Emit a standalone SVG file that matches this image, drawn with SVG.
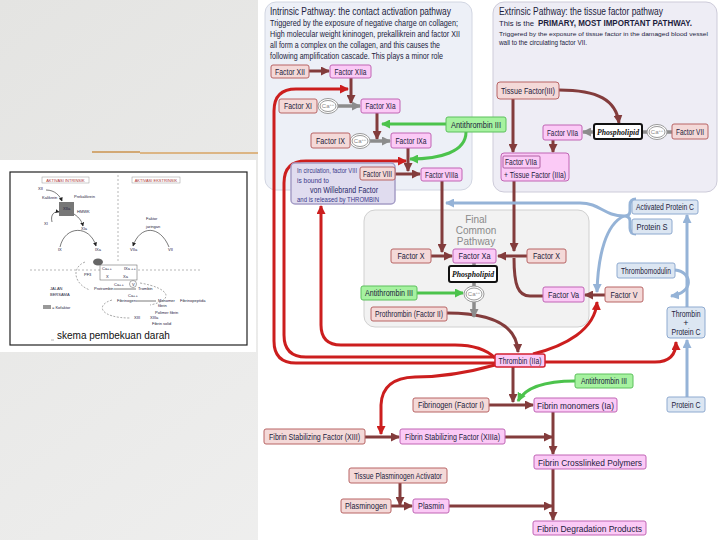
<svg xmlns="http://www.w3.org/2000/svg" width="720" height="540" viewBox="0 0 720 540">
<defs>
<linearGradient id="bg" x1="0" y1="0" x2="1" y2="1">
<stop offset="0" stop-color="#e4e4e2"/><stop offset="1" stop-color="#f3f3f3"/>
</linearGradient>
<marker id="am" markerUnits="userSpaceOnUse" markerWidth="9" markerHeight="9" refX="8" refY="4.5" orient="auto"><path d="M0,0 L9,4.5 L0,9 z" fill="#833c3c"/></marker>
<marker id="ar" markerUnits="userSpaceOnUse" markerWidth="9" markerHeight="9" refX="8" refY="4.5" orient="auto"><path d="M0,0 L9,4.5 L0,9 z" fill="#cc1e1e"/></marker>
<marker id="ag" markerUnits="userSpaceOnUse" markerWidth="9" markerHeight="9" refX="8" refY="4.5" orient="auto"><path d="M0,0 L9,4.5 L0,9 z" fill="#4cc34c"/></marker>
<marker id="ay" markerUnits="userSpaceOnUse" markerWidth="9" markerHeight="9" refX="8" refY="4.5" orient="auto"><path d="M0,0 L9,4.5 L0,9 z" fill="#8c8c8c"/></marker>
<marker id="ab" markerUnits="userSpaceOnUse" markerWidth="9" markerHeight="9" refX="8" refY="4.5" orient="auto"><path d="M0,0 L9,4.5 L0,9 z" fill="#95b3d7"/></marker>
<marker id="ak" markerUnits="userSpaceOnUse" markerWidth="4" markerHeight="4" refX="3.5" refY="2" orient="auto"><path d="M0,0 L4,2 L0,4 z" fill="#222"/></marker>
</defs>
<style>
text{font-family:"Liberation Sans Narrow","Liberation Sans",Arial,sans-serif;fill:#1c1c3c}
.lbl{font-size:9px;text-anchor:middle}
.sal{fill:#f4d9d8;stroke:#b86464;stroke-width:1}
.mag{fill:#fbcaf6;stroke:#c065b4;stroke-width:1}
.grn{fill:#a6f2a0;stroke:#5cc05c;stroke-width:1}
.blu{fill:#dce6f2;stroke:#8eaad0;stroke-width:1}
.phl{fill:#fff;stroke:#111;stroke-width:2}
.phlt{font-family:"Liberation Serif","Times New Roman",serif;font-style:italic;font-weight:bold;font-size:9px;text-anchor:middle}
.ca ellipse{fill:#fff;stroke:#9a9a9a;stroke-width:1}
.cat{font-size:6px;text-anchor:middle}
.m{fill:none;stroke:#833c3c;stroke-width:3;marker-end:url(#am)}
.r{fill:none;stroke:#cc1e1e;stroke-width:3;marker-end:url(#ar)}
.g{fill:none;stroke:#4cc34c;stroke-width:3;marker-end:url(#ag)}
.y{fill:none;stroke:#8c8c8c;stroke-width:3.5;marker-end:url(#ay)}
.yl{fill:none;stroke:#8c8c8c;stroke-width:3.5}
.b{fill:none;stroke:#95b3d7;stroke-width:3;marker-end:url(#ab)}
.bl{fill:none;stroke:#95b3d7;stroke-width:3}
.mini{font-family:"Liberation Sans",Arial,sans-serif;font-size:4px}
.mk{fill:none;stroke:#222;stroke-width:0.6}
</style>

<!-- slide background -->
<rect x="0" y="0" width="720" height="540" fill="url(#bg)"/>
<path d="M92,152 H140" stroke="#d2a874" stroke-width="2"/>
<path d="M140,153 H258" stroke="#dcb584" stroke-width="2"/>

<!-- inset picture -->
<g id="inset">
<rect x="0" y="160" width="256" height="192" fill="#fff"/>
<rect x="10" y="172" width="237" height="173" fill="#fff" stroke="#222" stroke-width="1.2"/>
<rect x="42" y="177" width="47" height="6" fill="#fff" stroke="#999" stroke-width="0.5"/>
<text class="mini" x="65.5" y="181.5" text-anchor="middle" style="fill:#a33">AKTIVASI INTRINSIK</text>
<rect x="132" y="177" width="48" height="6" fill="#fff" stroke="#999" stroke-width="0.5"/>
<text class="mini" x="156" y="181.5" text-anchor="middle" style="fill:#a33">AKTIVASI EKSTRINSIK</text>
<path d="M118,175 V262" stroke="#888" stroke-width="0.6" stroke-dasharray="2,2" fill="none"/>
<path d="M30,270 H200" stroke="#888" stroke-width="0.6" stroke-dasharray="2,2" fill="none"/>
<rect x="59" y="202" width="15" height="14" fill="#777"/>
<text class="mini" x="63" y="210">XIIa</text>
<text class="mini" x="38" y="190">XII</text>
<text class="mini" x="42" y="199">Kalikrein</text>
<text class="mini" x="74" y="198">Prekalikrein</text>
<text class="mini" x="77" y="213">HMWK</text>
<text class="mini" x="44" y="225">XI</text>
<text class="mini" x="81" y="230">XIa</text>
<text class="mini" x="58" y="251">IX</text>
<text class="mini" x="95" y="251">IXa</text>
<text class="mini" x="146" y="220">Faktor</text>
<text class="mini" x="146" y="228">jaringan</text>
<text class="mini" x="130" y="251">VIIa</text>
<text class="mini" x="168" y="251">VII</text>
<path class="mk" d="M46,190 C55,190 60,196 62,201" marker-end="url(#ak)"/>
<path class="mk" d="M52,222 C50,214 55,211 59,212" marker-end="url(#ak)"/>
<path class="mk" d="M74,214 C80,218 82,222 83,226" marker-end="url(#ak)"/>
<path class="mk" d="M60,247 C65,225 90,225 96,246" marker-end="url(#ak)"/>
<path class="mk" d="M169,247 C160,225 140,225 133,246" marker-end="url(#ak)"/>
<ellipse cx="98" cy="262" rx="5" ry="3.5" fill="#666"/>
<rect x="100" y="265" width="37" height="15" fill="#fff" stroke="#555" stroke-width="0.5"/>
<text class="mini" x="102" y="270">Ca++</text>
<text class="mini" x="124" y="270">IXa ++</text>
<text class="mini" x="106" y="278">X</text>
<text class="mini" x="123" y="278">Xa</text>
<text class="mini" x="84" y="276">PF3</text>
<text class="mini" x="114" y="286">Ca++</text>
<circle cx="133" cy="284" r="3.5" fill="#fff" stroke="#555" stroke-width="0.5"/>
<text class="mini" x="132" y="285.5">V</text>
<text class="mini" x="94" y="290">Protrombin</text>
<text class="mini" x="138" y="290">Trombin</text>
<path class="mk" d="M114,289 H136"/>
<text class="mini" x="50" y="290">JALAN</text>
<text class="mini" x="50" y="296">BERSAMA</text>
<text class="mini" x="128" y="297">Ca++</text>
<text class="mini" x="117" y="302">Fibrinogen</text>
<text class="mini" x="158" y="302">Monomer</text>
<text class="mini" x="180" y="302">Fibrinopeptida</text>
<path class="mk" d="M136,301 H156"/>
<text class="mini" x="158" y="307">fibrin</text>
<rect x="43" y="305" width="8" height="4" fill="#999"/>
<text class="mini" x="52" y="308.5">= Kofaktor</text>
<text class="mini" x="155" y="314">Polimer fibrin</text>
<text class="mini" x="134" y="319">XIII</text>
<text class="mini" x="150" y="319">XIIIa</text>
<text class="mini" x="152" y="325">Fibrin solid</text>
<path d="M85,262 C70,268 75,285 90,290 M140,283 C170,288 175,300 150,305 M112,300 C95,305 100,318 130,318" fill="none" stroke="#555" stroke-width="0.5" stroke-dasharray="2,1.5"/>
<text x="57" y="339" style="font-family:'Liberation Sans',Arial,sans-serif;font-size:10px;fill:#111">skema pembekuan darah</text>
<path d="M51,340 H54" stroke="#888" stroke-width="0.6"/>
</g>

<!-- right diagram -->
<rect x="258" y="0" width="462" height="540" fill="#fff"/>
<rect x="265" y="2" width="207" height="188" rx="11" fill="#edf0f7" stroke="#d2d6e2"/>
<rect x="493" y="2" width="224" height="190" rx="11" fill="#eeedf5" stroke="#cdcbd9"/>
<rect x="364" y="210" width="225" height="117" rx="11" fill="#f2f2f2" stroke="#d0d0d0"/>

<g id="titles">
<text x="270" y="15" font-size="11" textLength="181" lengthAdjust="spacingAndGlyphs">Intrinsic Pathway: the contact activation pathway</text>
<text x="270" y="26" font-size="9" textLength="188" lengthAdjust="spacingAndGlyphs">Triggered by the exposure of negative charge on collagen;</text>
<text x="270" y="37" font-size="9" textLength="190" lengthAdjust="spacingAndGlyphs">High molecular weight kininogen, prekallikrein and factor XII</text>
<text x="270" y="48" font-size="9" textLength="170" lengthAdjust="spacingAndGlyphs">all form a complex on the collagen, and this causes the</text>
<text x="270" y="59" font-size="9" textLength="173" lengthAdjust="spacingAndGlyphs">following amplification cascade. This plays a minor role</text>
<text x="499" y="15" font-size="11" textLength="164" lengthAdjust="spacingAndGlyphs">Extrinsic Pathway: the tissue factor pathway</text>
<text x="499" y="26" font-size="8" textLength="35" lengthAdjust="spacingAndGlyphs">This is the</text>
<text x="538" y="26" font-size="9" font-weight="bold" textLength="154" lengthAdjust="spacingAndGlyphs">PRIMARY, MOST IMPORTANT PATHWAY.</text>
<text x="499" y="35.5" font-size="6.2" textLength="209" lengthAdjust="spacingAndGlyphs">Triggered by the exposure of tissue factor in the damaged blood vessel</text>
<text x="499" y="45" font-size="7" textLength="88" lengthAdjust="spacingAndGlyphs">wall to the circulating factor VII.</text>
<text x="476" y="223" font-size="10" text-anchor="middle" style="fill:#8a8a8a">Final</text>
<text x="476" y="234" font-size="10" text-anchor="middle" style="fill:#8a8a8a">Common</text>
<text x="476" y="245" font-size="10" text-anchor="middle" style="fill:#8a8a8a">Pathway</text>
</g>

<!-- connectors -->
<g id="connectors">
<path class="r" d="M495,363 H296 Q274,363 274,341 V111 Q274,89 296,89 H348"/>
<path class="r" d="M495,357 H306 Q284,357 284,335 V183 Q284,161 306,161 H406"/>
<path class="r" d="M495,358 C485,348 472,345 455,345 H341 Q321,345 321,325 V206"/>
<path class="r" d="M495,365 C470,372 445,377 415,377 Q382,378 381,405 V434"/>
<path class="r" d="M533,354 C565,346 595,330 597,302"/>
<path class="r" d="M545,362 H655 Q676,362 676,342"/>
<path class="m" d="M308,71 H329"/>
<path class="m" d="M351,77 V103"/>
<path class="m" d="M377,113 V139"/>
<path class="m" d="M408,148 V171"/>
<path class="m" d="M395,174 H420"/>
<path class="m" d="M442,181 V252"/>
<path class="m" d="M431,256 H452"/>
<path class="m" d="M527,256 H498"/>
<path class="m" d="M513,99 V152"/>
<path class="m" d="M559,90 C598,90 616,100 619,123"/>
<path class="m" d="M553,140 V152"/>
<path class="m" d="M514,181 V251"/>
<path fill="none" stroke="#833c3c" stroke-width="3" d="M543,296 H530 C518,296 514,285 514,258"/>
<path class="m" d="M605,295 H585"/>
<path class="m" d="M447,313 C492,313 517,325 518,352"/>
<path class="m" d="M513,367 V402"/>
<path class="m" d="M489,405 H533"/>
<path class="m" d="M553,412 V454"/>
<path class="m" d="M365,437 H399"/>
<path class="m" d="M505,437 H552"/>
<path class="m" d="M553,468 V520"/>
<path class="m" d="M400,483 V505"/>
<path class="m" d="M391,506 H412"/>
<path class="m" d="M449,506 H552"/>
<path class="g" d="M446,124 H382"/>
<path class="g" d="M466,132 C466,152 440,159 410,159"/>
<path class="g" d="M417,293 H463"/>
<path class="g" d="M575,381 C545,381 525,388 518,401"/>
<path class="y" d="M338,106 H360"/>
<path class="y" d="M370,141 H390"/>
<path class="yl" d="M647,132 H642 M672,132 H667"/>
<path class="y" d="M594,132 H583"/>
<path class="yl" d="M474,263 V266 M474,282 V286"/>
<path class="y" d="M474,302 V317"/>
<path class="bl" d="M636,199 Q630,199 630,205 V211 Q630,216 624,216 Q630,216 630,221 V228 Q630,234 636,234"/>
<path class="b" d="M624,216 C604,216 600,203 580,203 H446"/>
<path class="b" d="M624,216 C606,224 598,255 597,292"/>
<path class="b" d="M687,307 V215"/>
<path class="b" d="M675,270 C693,272 694,293 671,296"/>
<path class="b" d="M687,397 V340"/>
</g>

<!-- Ca circles -->
<g id="ca1" class="ca"><ellipse cx="328" cy="106" rx="10" ry="7.5"/><ellipse cx="328" cy="106" rx="8" ry="5.5"/><text class="cat" x="328" y="108" style="fill:#888">Ca<tspan font-size="4" dy="-2">++</tspan></text></g>
<g id="ca2" class="ca"><ellipse cx="360" cy="141" rx="10" ry="7.5"/><ellipse cx="360" cy="141" rx="8" ry="5.5"/><text class="cat" x="360" y="143" style="fill:#888">Ca<tspan font-size="4" dy="-2">++</tspan></text></g>
<g id="ca3" class="ca"><ellipse cx="657" cy="132" rx="10" ry="7.5"/><ellipse cx="657" cy="132" rx="8" ry="5.5"/><text class="cat" x="657" y="134" style="fill:#888">Ca<tspan font-size="4" dy="-2">++</tspan></text></g>
<g id="ca4" class="ca"><ellipse cx="474" cy="294" rx="10" ry="8"/><ellipse cx="474" cy="294" rx="8" ry="6"/><text class="cat" x="474" y="296" style="fill:#888">Ca<tspan font-size="4" dy="-2">++</tspan></text></g>

<!-- nodes -->
<g id="n-f12"><rect class="sal" x="271" y="65" width="38" height="13" rx="2"/><text class="lbl" x="290" y="74.5" textLength="30" lengthAdjust="spacingAndGlyphs">Factor XII</text></g>
<g id="n-f12a"><rect class="mag" x="330" y="65" width="41" height="13" rx="2"/><text class="lbl" x="350.5" y="74.5" textLength="32" lengthAdjust="spacingAndGlyphs">Factor XIIa</text></g>
<g id="n-f11"><rect class="sal" x="279" y="99" width="38" height="14" rx="2"/><text class="lbl" x="298" y="109" textLength="28" lengthAdjust="spacingAndGlyphs">Factor XI</text></g>
<g id="n-f11a"><rect class="mag" x="361" y="99" width="39" height="14" rx="2"/><text class="lbl" x="380.5" y="109" textLength="30" lengthAdjust="spacingAndGlyphs">Factor XIa</text></g>
<g id="n-at1"><rect class="grn" x="446" y="117" width="60" height="15" rx="2"/><text class="lbl" x="476" y="127.5" textLength="50" lengthAdjust="spacingAndGlyphs">Antithrombin III</text></g>
<g id="n-f9"><rect class="sal" x="311" y="133" width="39" height="15" rx="2"/><text class="lbl" x="330.5" y="143.5" textLength="29" lengthAdjust="spacingAndGlyphs">Factor IX</text></g>
<g id="n-f9a"><rect class="mag" x="391" y="133" width="40" height="15" rx="2"/><text class="lbl" x="411" y="143.5" textLength="31" lengthAdjust="spacingAndGlyphs">Factor IXa</text></g>
<g id="n-vwf"><rect x="291" y="163" width="104" height="41" rx="4" fill="#e0dcef" stroke="#a59dc6" stroke-width="1.5"/>
<text x="297" y="173" font-size="7" textLength="60" lengthAdjust="spacingAndGlyphs" style="fill:#3a3a8a">In circulation, factor VIII</text>
<text x="297" y="183" font-size="7" textLength="32" lengthAdjust="spacingAndGlyphs" style="fill:#3a3a8a">is bound to</text>
<text x="310" y="192.5" font-size="9" textLength="68" lengthAdjust="spacingAndGlyphs" style="fill:#2a2a6a">von Willebrand Factor</text>
<text x="297" y="201.5" font-size="7" textLength="82" lengthAdjust="spacingAndGlyphs" style="fill:#3a3a8a">and is released by THROMBIN</text></g>
<g id="n-f8"><rect class="sal" x="360" y="167" width="35" height="13" rx="2"/><text class="lbl" x="377.5" y="176.5" textLength="29" lengthAdjust="spacingAndGlyphs">Factor VIII</text></g>
<g id="n-f8a"><rect class="mag" x="421" y="168" width="41" height="13" rx="2"/><text class="lbl" x="441.5" y="177.5" textLength="33" lengthAdjust="spacingAndGlyphs">Factor VIIIa</text></g>

<g id="n-tf"><rect class="sal" x="497" y="82" width="62" height="17" rx="3"/><text class="lbl" x="528" y="93.5" textLength="54" lengthAdjust="spacingAndGlyphs">Tissue Factor(III)</text></g>
<g id="n-f7a"><rect class="mag" x="543" y="125" width="39" height="15" rx="2"/><text class="lbl" x="562.5" y="135.5" textLength="31" lengthAdjust="spacingAndGlyphs">Factor VIIa</text></g>
<g id="n-pl1"><rect class="phl" x="594" y="124" width="48" height="15" rx="2"/><text class="phlt" x="618" y="134.5" textLength="42" lengthAdjust="spacingAndGlyphs" style="fill:#111">Phospholipid</text></g>
<g id="n-f7"><rect class="sal" x="672" y="124" width="36" height="15" rx="2"/><text class="lbl" x="690" y="134.5" textLength="28" lengthAdjust="spacingAndGlyphs">Factor VII</text></g>
<g id="n-f7atf"><rect class="mag" x="501" y="153" width="68" height="28" rx="3"/><rect x="503" y="156" width="37" height="12" fill="none" stroke="#a04890" stroke-width="0.8" rx="1"/>
<text x="505" y="165" font-size="9" textLength="32" lengthAdjust="spacingAndGlyphs">Factor VIIa</text>
<text x="504" y="177.5" font-size="9" textLength="62" lengthAdjust="spacingAndGlyphs">+ Tissue Factor (IIIa)</text></g>

<g id="n-f10"><rect class="sal" x="391" y="249" width="40" height="14" rx="2"/><text class="lbl" x="411" y="259" textLength="27" lengthAdjust="spacingAndGlyphs">Factor X</text></g>
<g id="n-f10a"><rect class="mag" x="453" y="249" width="43" height="14" rx="2"/><text class="lbl" x="474.5" y="259" textLength="32" lengthAdjust="spacingAndGlyphs">Factor Xa</text></g>
<g id="n-f10r"><rect class="sal" x="527" y="249" width="39" height="14" rx="2"/><text class="lbl" x="546.5" y="259" textLength="27" lengthAdjust="spacingAndGlyphs">Factor X</text></g>
<g id="n-pl2"><rect class="phl" x="449" y="266" width="48" height="16" rx="2"/><text class="phlt" x="473" y="277" textLength="42" lengthAdjust="spacingAndGlyphs" style="fill:#111">Phospholipid</text></g>
<g id="n-at2"><rect class="grn" x="361" y="286" width="56" height="14" rx="2"/><text class="lbl" x="389" y="296" textLength="48" lengthAdjust="spacingAndGlyphs">Antithrombin III</text></g>
<g id="n-f2"><rect class="sal" x="371" y="307" width="76" height="14" rx="2"/><text class="lbl" x="409" y="317" textLength="68" lengthAdjust="spacingAndGlyphs">Prothrombin (Factor II)</text></g>
<g id="n-f5a"><rect class="mag" x="543" y="287" width="41" height="15" rx="2"/><text class="lbl" x="563.5" y="297.5" textLength="31" lengthAdjust="spacingAndGlyphs">Factor Va</text></g>
<g id="n-f5"><rect class="sal" x="605" y="287" width="38" height="15" rx="2"/><text class="lbl" x="624" y="297.5" textLength="27" lengthAdjust="spacingAndGlyphs">Factor V</text></g>

<g id="n-apc"><rect class="blu" x="632" y="200" width="66" height="14" rx="2"/><text class="lbl" x="665" y="210" textLength="58" lengthAdjust="spacingAndGlyphs">Activated Protein C</text></g>
<g id="n-ps"><rect class="blu" x="632" y="219" width="40" height="15" rx="2"/><text class="lbl" x="652" y="229.5" textLength="31" lengthAdjust="spacingAndGlyphs">Protein S</text></g>
<g id="n-tm"><rect class="blu" x="617" y="263" width="58" height="15" rx="2"/><text class="lbl" x="646" y="273.5" textLength="50" lengthAdjust="spacingAndGlyphs">Thrombomodulin</text></g>
<g id="n-tpc"><rect class="blu" x="667" y="307" width="38" height="31" rx="3"/><text class="lbl" x="686" y="317" textLength="29" lengthAdjust="spacingAndGlyphs">Thrombin</text><text class="lbl" x="686" y="325.5">+</text><text class="lbl" x="686" y="335" textLength="29" lengthAdjust="spacingAndGlyphs">Protein C</text></g>
<g id="n-pc"><rect class="blu" x="667" y="397" width="38" height="15" rx="2"/><text class="lbl" x="686" y="407.5" textLength="29" lengthAdjust="spacingAndGlyphs">Protein C</text></g>

<g id="n-thr"><rect x="495" y="354" width="50" height="13" rx="2" fill="#fbcaf6" stroke="#d42030" stroke-width="1.5"/><text class="lbl" x="520" y="363.5" textLength="43" lengthAdjust="spacingAndGlyphs">Thrombin (IIa)</text></g>
<g id="n-at3"><rect class="grn" x="575" y="374" width="58" height="14" rx="2"/><text class="lbl" x="604" y="384" textLength="46" lengthAdjust="spacingAndGlyphs">Antithrombin III</text></g>
<g id="n-f1"><rect class="sal" x="413" y="398" width="76" height="14" rx="2"/><text class="lbl" x="451" y="408" textLength="66" lengthAdjust="spacingAndGlyphs">Fibrinogen (Factor I)</text></g>
<g id="n-fm"><rect class="mag" x="534" y="398" width="83" height="14" rx="2"/><text class="lbl" x="575.5" y="408.5" font-size="10" textLength="77" lengthAdjust="spacingAndGlyphs">Fibrin monomers (Ia)</text></g>
<g id="n-f13"><rect class="sal" x="264" y="429" width="101" height="15" rx="2"/><text class="lbl" x="314.5" y="439.5" textLength="91" lengthAdjust="spacingAndGlyphs">Fibrin Stabilizing Factor (XIII)</text></g>
<g id="n-f13a"><rect class="mag" x="400" y="429" width="105" height="15" rx="2"/><text class="lbl" x="452.5" y="439.5" textLength="95" lengthAdjust="spacingAndGlyphs">Fibrin Stabilizing Factor (XIIIa)</text></g>
<g id="n-fcp"><rect class="mag" x="534" y="455" width="112" height="14" rx="2"/><text class="lbl" x="590" y="465.5" font-size="10" textLength="104" lengthAdjust="spacingAndGlyphs">Fibrin Crosslinked Polymers</text></g>
<g id="n-tpa"><rect class="sal" x="349" y="468" width="98" height="15" rx="2"/><text class="lbl" x="398" y="478.5" textLength="88" lengthAdjust="spacingAndGlyphs">Tissue Plasminogen Activator</text></g>
<g id="n-plg"><rect class="sal" x="341" y="499" width="50" height="14" rx="2"/><text class="lbl" x="366" y="509" textLength="42" lengthAdjust="spacingAndGlyphs">Plasminogen</text></g>
<g id="n-pls"><rect class="mag" x="413" y="499" width="36" height="14" rx="2"/><text class="lbl" x="431" y="509" textLength="26" lengthAdjust="spacingAndGlyphs">Plasmin</text></g>
<g id="n-fdp"><rect class="mag" x="533" y="521" width="113" height="14" rx="2"/><text class="lbl" x="589.5" y="531.5" font-size="10" textLength="105" lengthAdjust="spacingAndGlyphs">Fibrin Degradation Products</text></g>
</svg>
